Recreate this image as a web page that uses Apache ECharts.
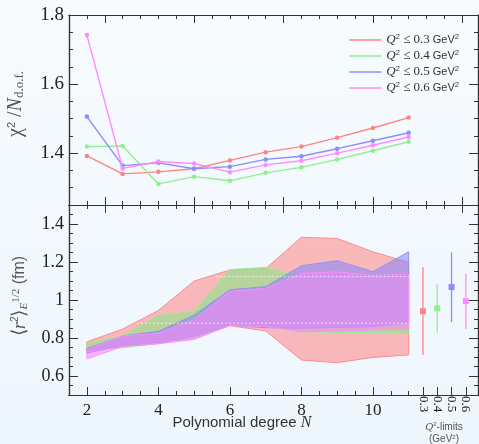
<!DOCTYPE html>
<html><head><meta charset="utf-8">
<script src="https://cdn.jsdelivr.net/npm/echarts@6/dist/echarts.min.js"></script>
<style>html,body{margin:0;padding:0;background:linear-gradient(#f7fbfe,#eef6fd);} #c{width:479px;height:444px;}</style>
</head><body><div id="c"></div>
<script>
// ---- data ----
const degrees = [2, 3, 4, 5, 6, 7, 8, 9, 10, 11];
const q2Limits = ['0.3', '0.4', '0.5', '0.6'];
const colors = ['#ff8585', '#8ef08e', '#8c8cff', '#ff8cff'];
const fills = ['rgba(255,120,120,0.50)', 'rgba(130,235,130,0.55)', 'rgba(130,130,255,0.55)', 'rgba(255,128,255,0.55)'];

const chiRed   = [1.392, 1.340, 1.346, 1.355, 1.379, 1.403, 1.419, 1.445, 1.473, 1.503];
const chiGreen = [1.419, 1.421, 1.311, 1.332, 1.320, 1.343, 1.359, 1.382, 1.407, 1.433];
const chiBlue  = [1.506, 1.364, 1.372, 1.355, 1.361, 1.382, 1.391, 1.413, 1.436, 1.459];
const chiPink  = [1.742, 1.356, 1.376, 1.370, 1.345, 1.366, 1.378, 1.400, 1.423, 1.447];

const radRedLow    = [0.735, 0.755, 0.770, 0.800, 0.865, 0.837, 0.684, 0.670, 0.698, 0.711];
const radRedHigh   = [0.780, 0.847, 0.945, 1.100, 1.158, 1.165, 1.330, 1.324, 1.254, 1.198];
const radGreenLow  = [0.745, 0.748, 0.773, 0.800, 0.868, 0.858, 0.833, 0.830, 0.828, 0.825];
const radGreenHigh = [0.772, 0.810, 0.919, 0.940, 1.160, 1.172, 1.120, 1.130, 1.130, 1.140];
const radBlueLow   = [0.720, 0.760, 0.775, 0.810, 0.868, 0.854, 0.851, 0.855, 0.860, 0.883];
const radBlueHigh  = [0.745, 0.810, 0.835, 0.920, 1.054, 1.070, 1.180, 1.207, 1.149, 1.254];
const radPinkLow   = [0.690, 0.755, 0.770, 0.792, 0.866, 0.860, 0.833, 0.837, 0.842, 0.847];
const radPinkHigh  = [0.740, 0.810, 0.825, 0.895, 1.046, 1.061, 1.140, 1.148, 1.130, 1.136];

const limitX    = [11.4, 11.8, 12.2, 12.6];
const limitVal  = [0.941, 0.956, 1.068, 0.994];
const limitLow  = [0.711, 0.828, 0.883, 0.847];
const limitHigh = [1.172, 1.084, 1.251, 1.137];

const whiteLineUpper = [[5.6, 1.123], [11, 1.123]];
const whiteLineLower = [[3.4, 0.878], [11, 0.878]];

const xTickLabels = [2, 4, 6, 8, 10];
const chiTickLabels = [1.4, 1.6, 1.8];
const radTickLabels = [0.6, 0.8, 1, 1.2, 1.4];

// ---- layout helpers ----
const XMIN = 1.5, XMAX = 12.94;
const SERIF = 'Liberation Serif';
const SANS = 'Liberation Sans';
function steps(a, b, s) { const r = []; for (let v = a; v <= b + 1e-9; v += s) r.push(Math.round(v * 1000) / 1000); return r; }
function without(arr, ex) { return arr.filter(v => !ex.some(e => Math.abs(e - v) < 1e-6)); }
const edgeLong = [2.5, 5, 7.5, 10, 12.5];
const edgeShort = without(steps(2, 12.5, 0.5), edgeLong);
const bottomShort = without(steps(2.5, 11, 0.5), xTickLabels);
const chiShort = without(steps(1.3, 1.75, 0.05), chiTickLabels);
const radShort = without(steps(0.55, 1.45, 0.05), radTickLabels);

const lineCol = '#333';
function xa(grid, pos, values, len, extra) {
  return Object.assign({
    type: 'value', gridIndex: grid, position: pos, min: XMIN, max: XMAX,
    axisLine: { show: true, onZero: false, lineStyle: { color: lineCol, width: 1.2 } },
    axisTick: { show: true, inside: true, length: len, customValues: values, lineStyle: { color: lineCol, width: 1 } },
    axisLabel: { show: false }, splitLine: { show: false }
  }, extra || {});
}
function ya(grid, pos, min, max, values, len, extra) {
  return Object.assign({
    type: 'value', gridIndex: grid, position: pos, min: min, max: max,
    axisLine: { show: true, onZero: false, lineStyle: { color: lineCol, width: 1.2 } },
    axisTick: { show: true, inside: true, length: len, customValues: values, lineStyle: { color: lineCol, width: 1 } },
    axisLabel: { show: false }, splitLine: { show: false }
  }, extra || {});
}

const xAxes = [
  xa(0, 'bottom', edgeLong, 8),
  xa(1, 'bottom', xTickLabels, 8, { axisLabel: { show: true, customValues: xTickLabels, margin: 7, fontFamily: SERIF, fontSize: 17, color: '#222' } }),
  xa(0, 'bottom', edgeShort, 4),
  xa(0, 'top', edgeLong, 8),
  xa(0, 'top', edgeShort, 4),
  xa(1, 'top', edgeLong, 8),
  xa(1, 'top', edgeShort, 4),
  xa(1, 'bottom', bottomShort, 4),
  xa(1, 'bottom', limitX, 8, { axisLabel: { show: true, customValues: limitX, rotate: -90, margin: 1, fontFamily: SERIF, fontSize: 13, color: '#222',
      formatter: v => q2Limits[limitX.findIndex(x => Math.abs(x - v) < 1e-6)] } })
];
const yAxes = [
  ya(0, 'left', 1.25, 1.8, chiTickLabels, 9, { axisLabel: { show: true, customValues: chiTickLabels, margin: 5, fontFamily: SERIF, fontSize: 19, color: '#222', formatter: v => v.toFixed(1) } }),
  ya(1, 'left', 0.5, 1.5, radTickLabels, 9, { axisLabel: { show: true, customValues: radTickLabels, margin: 5, fontFamily: SERIF, fontSize: 18, color: '#222' } }),
  ya(0, 'left', 1.25, 1.8, chiShort, 4),
  ya(0, 'right', 1.25, 1.8, chiTickLabels, 9),
  ya(0, 'right', 1.25, 1.8, chiShort, 4),
  ya(1, 'left', 0.5, 1.5, radShort, 4),
  ya(1, 'right', 0.5, 1.5, radTickLabels, 9),
  ya(1, 'right', 0.5, 1.5, radShort, 4)
];

const names = q2Limits.map(q => 'Q² ≤ ' + q + ' GeV²');
const chiData = [chiRed, chiGreen, chiBlue, chiPink];
const bandLow = [radRedLow, radGreenLow, radBlueLow, radPinkLow];
const bandHigh = [radRedHigh, radGreenHigh, radBlueHigh, radPinkHigh];

const series = [];
chiData.forEach((arr, k) => {
  series.push({
    type: 'line', name: names[k], xAxisIndex: 0, yAxisIndex: 0,
    data: degrees.map((d, i) => [d, arr[i]]),
    symbol: 'circle', symbolSize: 4.5, showSymbol: true,
    lineStyle: { color: colors[k], width: 1.4 }, itemStyle: { color: colors[k] },
    z: 3 + k, animation: false
  });
});
bandLow.forEach((low, k) => {
  const high = bandHigh[k];
  series.push({
    type: 'custom', name: names[k] + ' band', xAxisIndex: 1, yAxisIndex: 1,
    data: [[degrees[0], low[0]]], silent: true, animation: false, z: 2 + k,
    renderItem: function (params, api) {
      const pts = [];
      for (let i = 0; i < degrees.length; i++) pts.push(api.coord([degrees[i], low[i]]));
      for (let i = degrees.length - 1; i >= 0; i--) pts.push(api.coord([degrees[i], high[i]]));
      return { type: 'polygon', shape: { points: pts }, style: { fill: fills[k], stroke: colors[k], lineWidth: 0.9 } };
    }
  });
});
[whiteLineUpper, whiteLineLower].forEach(d => {
  series.push({
    type: 'line', xAxisIndex: 1, yAxisIndex: 1, data: d, symbol: 'none', silent: true, animation: false, z: 8,
    lineStyle: { color: 'rgba(255,255,255,0.7)', width: 1, type: [2, 2] }
  });
});
series.push({
  type: 'custom', name: 'limits', xAxisIndex: 1, yAxisIndex: 1, silent: true, animation: false, z: 9,
  data: limitX.map((x, i) => [x, limitVal[i], limitLow[i], limitHigh[i], i]),
  renderItem: function (params, api) {
    const x = api.value(0), k = api.value(4);
    const c = api.coord([x, api.value(1)]);
    const lo = api.coord([x, api.value(2)]);
    const hi = api.coord([x, api.value(3)]);
    return { type: 'group', children: [
      { type: 'line', shape: { x1: lo[0], y1: lo[1], x2: hi[0], y2: hi[1] }, style: { stroke: colors[k], lineWidth: 1.3 } },
      { type: 'rect', shape: { x: c[0] - 3, y: c[1] - 3, width: 6, height: 6 }, style: { fill: colors[k] } }
    ] };
  }
});

const chart = echarts.init(document.getElementById('c'), null, { renderer: 'canvas' });
chart.setOption({
  backgroundColor: 'transparent',
  animation: false,
  grid: [
    { left: 69, top: 15, width: 409, height: 190, containLabel: false },
    { left: 69, top: 205, width: 409, height: 190, containLabel: false }
  ],
  xAxis: xAxes,
  yAxis: yAxes,
  legend: {
    data: names, orient: 'vertical', right: 15, top: 28, itemGap: 2,
    icon: 'rect', itemWidth: 32, itemHeight: 1.6, selectedMode: false,
    textStyle: { fontSize: 11, lineHeight: 14, color: '#333',
      rich: {
        q: { fontFamily: SERIF, fontStyle: 'italic', fontSize: 13, color: '#333' },
        s: { fontSize: 7.5, color: '#333', verticalAlign: 'top', padding: [0, 0, 6, 0] },
        m: { fontFamily: SERIF, fontSize: 13, color: '#333' },
        g: { fontFamily: SANS, fontSize: 11, color: '#333' }
      } },
    formatter: function (n) {
      const q = q2Limits[names.indexOf(n)];
      return '{q|Q}{s|2}{m| ≤ ' + q + '} {g|GeV}{s|2}';
    }
  },
  graphic: [
    { type: 'text', x: 242, y: 423, style: { text: '{a|Polynomial degree }{b|N}', align: 'center', verticalAlign: 'middle',
      rich: { a: { fontFamily: SANS, fontSize: 15, fill: '#333' }, b: { fontFamily: SERIF, fontStyle: 'italic', fontSize: 16, fill: '#333' } } } },
    { type: 'text', x: 444, y: 427, style: { text: '{q|Q}{s|2}{a|-limits}', align: 'center', verticalAlign: 'middle',
      rich: { q: { fontFamily: SERIF, fontStyle: 'italic', fontSize: 11, fill: '#555' }, s: { fontSize: 6, fill: '#555', verticalAlign: 'top' }, a: { fontFamily: SANS, fontSize: 10, fill: '#555' } } } },
    { type: 'text', x: 444, y: 439, style: { text: '{a|(GeV}{s|2}{a|)}', align: 'center', verticalAlign: 'middle',
      rich: { s: { fontSize: 6, fill: '#555', verticalAlign: 'top' }, a: { fontFamily: SANS, fontSize: 10, fill: '#555' } } } },
    { type: 'text', x: 16, y: 104, rotation: Math.PI / 2, style: { text: '{c|χ}{s|2}{c| /}{n|N}{d|d.o.f.}', align: 'center', verticalAlign: 'middle',
      rich: { c: { fontFamily: SERIF, fontSize: 20, fill: '#555' }, s: { fontSize: 11, fill: '#555', verticalAlign: 'top' },
              n: { fontFamily: SERIF, fontStyle: 'italic', fontSize: 20, fill: '#555' }, d: { fontFamily: SERIF, fontSize: 13, fill: '#555', verticalAlign: 'bottom' } } } },
    { type: 'text', x: 20, y: 296, rotation: Math.PI / 2, style: { text: '{c|⟨}{r|r}{s|2}{c|⟩}{e|E}{h|1/2}{f| (fm)}', align: 'center', verticalAlign: 'middle',
      rich: { c: { fontFamily: SERIF, fontSize: 19, fill: '#555' }, r: { fontFamily: SERIF, fontStyle: 'italic', fontSize: 18, fill: '#555' },
              s: { fontSize: 10, fill: '#555', verticalAlign: 'top' }, e: { fontFamily: SERIF, fontStyle: 'italic', fontSize: 11, fill: '#555', verticalAlign: 'bottom' },
              h: { fontFamily: SERIF, fontSize: 11, fill: '#555', verticalAlign: 'top' }, f: { fontFamily: SANS, fontSize: 16, fill: '#555' } } } }
  ],
  series: series
});
</script></body></html>
